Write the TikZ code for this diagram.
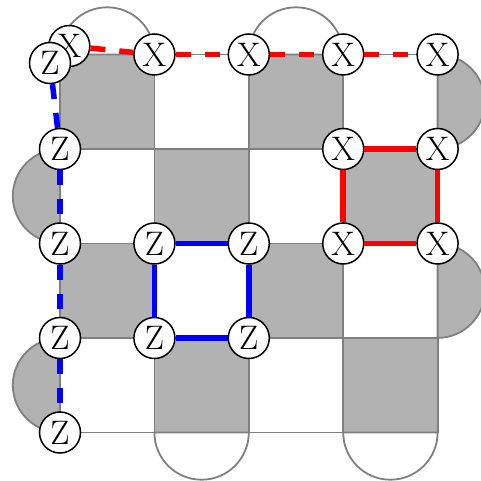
\documentclass[tikz,border=0pt]{standalone}
\usepackage{fontspec}
\setmainfont{Latin Modern Roman}
\begin{document}
\begin{tikzpicture}[x=1pt,y=1pt,
  cell/.style={draw=gray,line width=1.8pt},
  dark/.style={cell,fill=black!30},
  light/.style={cell,fill=white},
  qubit/.style={circle,draw=black,fill=white,line width=1.5pt,minimum size=41pt,inner sep=0pt,font=\fontsize{34}{36}\selectfont},
  xline/.style={red,line width=5.5pt},
  zline/.style={blue,line width=5.5pt},
  dashy/.style={dash pattern=on 15pt off 14pt}]
\useasboundingbox (0,0) rectangle (480,481);
\def\r{47.2}
% checkerboard
\foreach \c/\xa in {0/60,1/154.4,2/248.8,3/343.2}{
  \foreach \rr/\ya in {0/426.5,1/332,2/237.5,3/143}{
    \pgfmathtruncatemacro{\myparity}{mod(\c+\rr,2)}
    \ifnum\myparity=0
      \draw[dark] (\xa,\ya) rectangle ++(94.4,-94.5);
    \else
      \draw[light] (\xa,\ya) rectangle ++(94.4,-94.5);
    \fi
  }
}
% boundary half discs
\draw[light] (60,426.5) arc[start angle=180,end angle=0,radius=\r] -- cycle;
\draw[light] (248.8,426.5) arc[start angle=180,end angle=0,radius=\r] -- cycle;
\draw[light] (154.4,48.5) arc[start angle=180,end angle=360,radius=\r] -- cycle;
\draw[light] (343.2,48.5) arc[start angle=180,end angle=360,radius=\r] -- cycle;
\draw[dark] (437.6,426.5) arc[start angle=90,end angle=-90,radius=\r] -- cycle;
\draw[dark] (437.6,237.5) arc[start angle=90,end angle=-90,radius=\r] -- cycle;
\draw[dark] (60,332) arc[start angle=90,end angle=270,radius=\r] -- cycle;
\draw[dark] (60,143) arc[start angle=90,end angle=270,radius=\r] -- cycle;
% X nodes
\node[qubit] (xc) at (69.3,435) {X};
\node[qubit] (x1) at (154.4,426.5) {X};
\node[qubit] (x2) at (248.8,426.5) {X};
\node[qubit] (x3) at (343.2,426.5) {X};
\node[qubit] (x4) at (437.6,426.5) {X};
\node[qubit] (xa) at (343.2,332) {X};
\node[qubit] (xb) at (437.6,332) {X};
\node[qubit] (xe) at (343.2,237.5) {X};
\node[qubit] (xd) at (437.6,237.5) {X};
% Z nodes
\node[qubit] (zc) at (50,418) {Z};
\node[qubit] (z1) at (60,332) {Z};
\node[qubit] (z2) at (60,237.5) {Z};
\node[qubit] (z3) at (60,143) {Z};
\node[qubit] (z4) at (60,48.5) {Z};
\node[qubit] (za) at (154.4,237.5) {Z};
\node[qubit] (zb) at (248.8,237.5) {Z};
\node[qubit] (ze) at (154.4,143) {Z};
\node[qubit] (zd) at (248.8,143) {Z};
% logical X (dashed red)
\draw[xline,dashy] (xc) -- (x1);
\draw[xline,dashy] (x1) -- (x2);
\draw[xline,dashy] (x2) -- (x3);
\draw[xline,dashy] (x3) -- (x4);
% X stabilizer
\draw[xline] (xa) -- (xb);
\draw[xline] (xb) -- (xd);
\draw[xline] (xd) -- (xe);
\draw[xline] (xe) -- (xa);
% logical Z (dashed blue)
\draw[zline,dashy] (zc) -- (z1);
\draw[zline,dashy] (z1) -- (z2);
\draw[zline,dashy] (z2) -- (z3);
\draw[zline,dashy] (z3) -- (z4);
% Z stabilizer
\draw[zline] (za) -- (zb);
\draw[zline] (zb) -- (zd);
\draw[zline] (zd) -- (ze);
\draw[zline] (ze) -- (za);
\end{tikzpicture}
\end{document}
